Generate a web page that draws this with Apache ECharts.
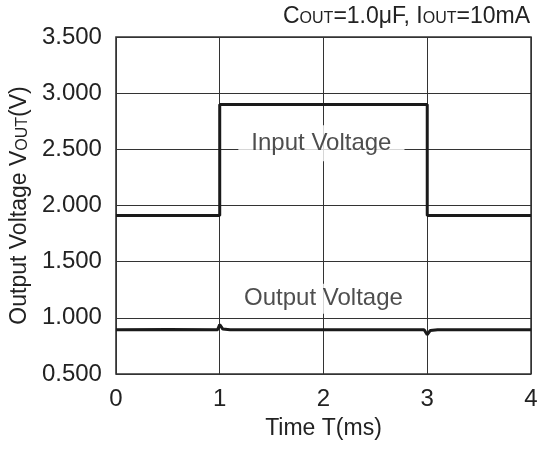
<!DOCTYPE html>
<html><head><meta charset="utf-8">
<script src="https://cdn.jsdelivr.net/npm/echarts@6/dist/echarts.min.js"></script>
<style>html,body{margin:0;padding:0;background:#fff}#c{width:547px;height:450px}</style>
</head><body><div id="c"></div>
<script>
var xTicks = [0, 1, 2, 3, 4];
var yTicks = ['0.500', '1.000', '1.500', '2.000', '2.500', '3.000', '3.500'];
var inputTime = [0, 1, 1, 3, 3, 4];
var inputVolt = [1.91, 1.91, 2.9, 2.9, 1.91, 1.91];
var outputTime = [0, 0.5, 0.98, 1.0, 1.03, 1.1, 1.5, 2.0, 2.5, 2.97, 3.0, 3.03, 3.1, 3.5, 4];
var outputVolt = [0.895, 0.896, 0.895, 0.94, 0.9, 0.893, 0.895, 0.894, 0.895, 0.894, 0.85, 0.888, 0.894, 0.895, 0.895];
var labelNames = ['Input Voltage', 'Output Voltage'];
var labelPos = [[1.98, 2.555], [2.0, 1.17]];

function pairs(xs, ys){ return xs.map(function(x,i){ return [x, ys[i]]; }); }
var font = 'Liberation Sans, Arial, sans-serif';
var chart = echarts.init(document.getElementById('c'), null, {renderer:'canvas'});
chart.setOption({
  animation: false,
  backgroundColor: '#fff',
  title: {
    right: 12, top: 0,
    text: '{n|C}{s|OUT}{n|=1.0μF, I}{s|OUT}{n|=10mA}',
    textStyle: {
      fontWeight: 'normal',
      rich: {
        n: {fontFamily: font, fontSize: 23, fontWeight: 'normal', color: '#222'},
        s: {fontFamily: font, fontSize: 16, fontWeight: 'normal', color: '#222', padding:[5,0,0,0]}
      }
    }
  },
  grid: {left: 115, right: 16, top: 37, bottom: 76, show: true, borderColor: '#333', borderWidth: 1.5},
  xAxis: {
    type: 'value', min: 0, max: 4, interval: 1,
    name: 'Time T(ms)', nameLocation: 'middle', nameGap: 43,
    nameTextStyle: {fontFamily: font, fontSize: 23, color: '#222'},
    axisLine: {show: false}, axisTick: {show: false},
    axisLabel: {fontFamily: font, fontSize: 24, color: '#222', margin: 13,
      formatter: function(v){ return String(xTicks[Math.round(v)]); }},
    splitLine: {show: true, lineStyle: {color: '#333', width: 1}}
  },
  yAxis: {
    type: 'value', min: 0.5, max: 3.5, interval: 0.5,
    name: '{n|Output Voltage V}{s|OUT}{n|(V)}', nameLocation: 'middle', nameGap: 77,
    nameTextStyle: {
      padding: [0, 0, 0, 0],
      rich: {
        n: {fontFamily: font, fontSize: 23, color: '#222'},
        s: {fontFamily: font, fontSize: 16, color: '#222', padding:[6,0,0,0]}
      }
    },
    axisLine: {show: false}, axisTick: {show: false},
    axisLabel: {fontFamily: font, fontSize: 24, color: '#222', margin: 14,
      formatter: function(v){ return yTicks[Math.round((v-0.5)/0.5)]; }},
    splitLine: {show: true, lineStyle: {color: '#333', width: 1}}
  },
  series: [
    {type: 'line', data: pairs(inputTime, inputVolt), showSymbol: false,
     lineStyle: {color: '#1a1a1a', width: 3}, z: 3},
    {type: 'line', data: pairs(outputTime, outputVolt), showSymbol: false,
     lineStyle: {color: '#1a1a1a', width: 3}, z: 3},
    {type: 'scatter', symbolSize: 0, z: 2,
     data: labelPos.map(function(p, i){
       return {value: p, label: {show: true, position: 'inside', formatter: labelNames[i],
         fontFamily: font, fontSize: 24, color: '#222', backgroundColor: '#fff',
         padding: i === 0 ? [6, 13, 6, 13] : [2, 6, 4, 6]}};
     })}
  ]
});
</script></body></html>
